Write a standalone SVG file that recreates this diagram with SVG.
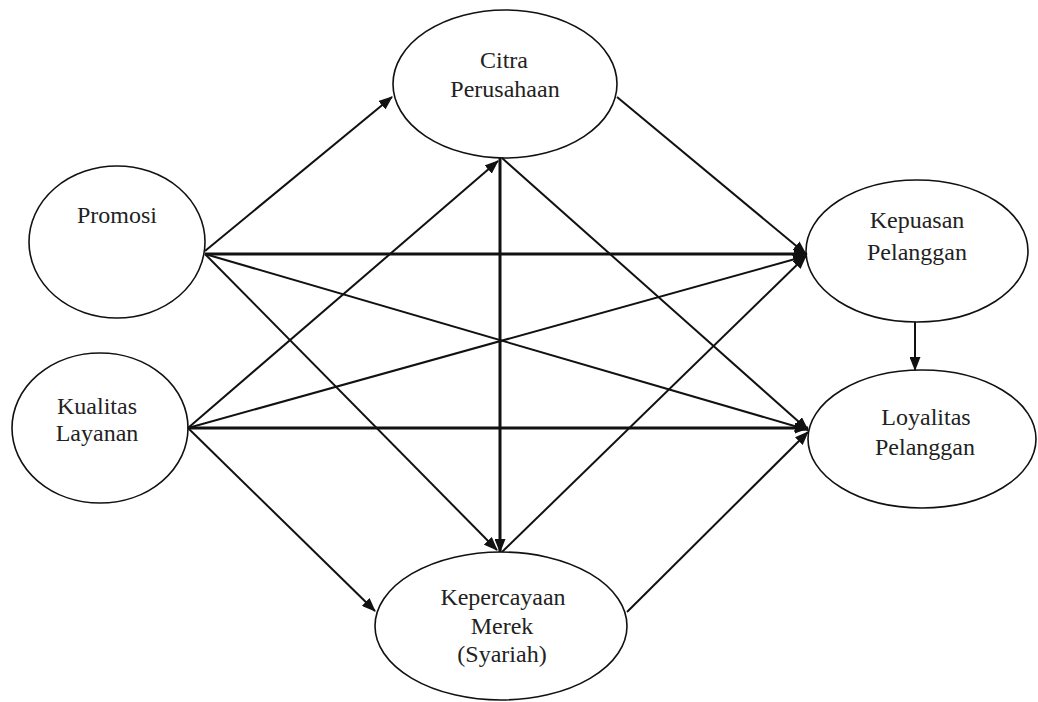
<svg xmlns="http://www.w3.org/2000/svg" width="1038" height="702" viewBox="0 0 1038 702">
  <style>
    .node ellipse { fill: #ffffff; stroke: #111111; stroke-width: 1.6; }
    .node text { font-family: "Liberation Serif", "Times New Roman", serif; font-size: 24px; fill: #222222; text-anchor: middle; }
    .edge { fill: none; stroke: #111111; stroke-width: 2; marker-end: url(#ah); }
    .edge.thick { stroke-width: 3; }
  </style>
  <defs>
    <marker id="ah" viewBox="0 0 14 11" refX="13" refY="5.5" markerWidth="14" markerHeight="11" markerUnits="userSpaceOnUse" orient="auto">
      <path d="M0,0 L14,5.5 L0,11 z" fill="#111111"/>
    </marker>
  </defs>
  <rect width="1038" height="702" fill="#ffffff"/>

  <!-- nodes -->
  <g id="promosi" class="node">
    <ellipse cx="117" cy="242" rx="88" ry="76"/>
    <text x="117" y="223">Promosi</text>
  </g>
  <g id="kualitas-layanan" class="node">
    <ellipse cx="100" cy="428" rx="88" ry="75"/>
    <text x="97" y="414">Kualitas</text>
    <text x="97" y="441">Layanan</text>
  </g>
  <g id="citra-perusahaan" class="node">
    <ellipse cx="505" cy="84" rx="112" ry="74"/>
    <text x="504" y="68">Citra</text>
    <text x="505" y="97">Perusahaan</text>
  </g>
  <g id="kepuasan-pelanggan" class="node">
    <ellipse cx="917" cy="251" rx="111" ry="71"/>
    <text x="917" y="228">Kepuasan</text>
    <text x="917" y="260">Pelanggan</text>
  </g>
  <g id="loyalitas-pelanggan" class="node">
    <ellipse cx="922" cy="439" rx="114" ry="69"/>
    <text x="926" y="425">Loyalitas</text>
    <text x="925" y="455">Pelanggan</text>
  </g>
  <g id="kepercayaan-merek" class="node">
    <ellipse cx="501" cy="626" rx="126" ry="74"/>
    <text x="503" y="605">Kepercayaan</text>
    <text x="502" y="634">Merek</text>
    <text x="502" y="662">(Syariah)</text>
  </g>

  <!-- connectors -->
  <g id="connectors">
    <path class="edge" d="M205,251 L392,97"/>
    <path class="edge thick" d="M205,254 L807,254"/>
    <path class="edge" d="M205,254 L808,430"/>
    <path class="edge" d="M205,254 L497,550"/>
    <path class="edge" d="M188,428 L498,161"/>
    <path class="edge" d="M188,428 L806,256"/>
    <path class="edge thick" d="M188,428 L808,428"/>
    <path class="edge" d="M188,428 L375,611"/>
    <path class="edge" d="M617,97 L806,254"/>
    <path class="edge thick" d="M500,158 L500,552"/>
    <path class="edge" d="M502,158 L808,430"/>
    <path class="edge" d="M502,552 L806,256"/>
    <path class="edge" d="M627,612 L808,432"/>
    <path class="edge" d="M915,322 L915,370"/>
  </g>
</svg>
